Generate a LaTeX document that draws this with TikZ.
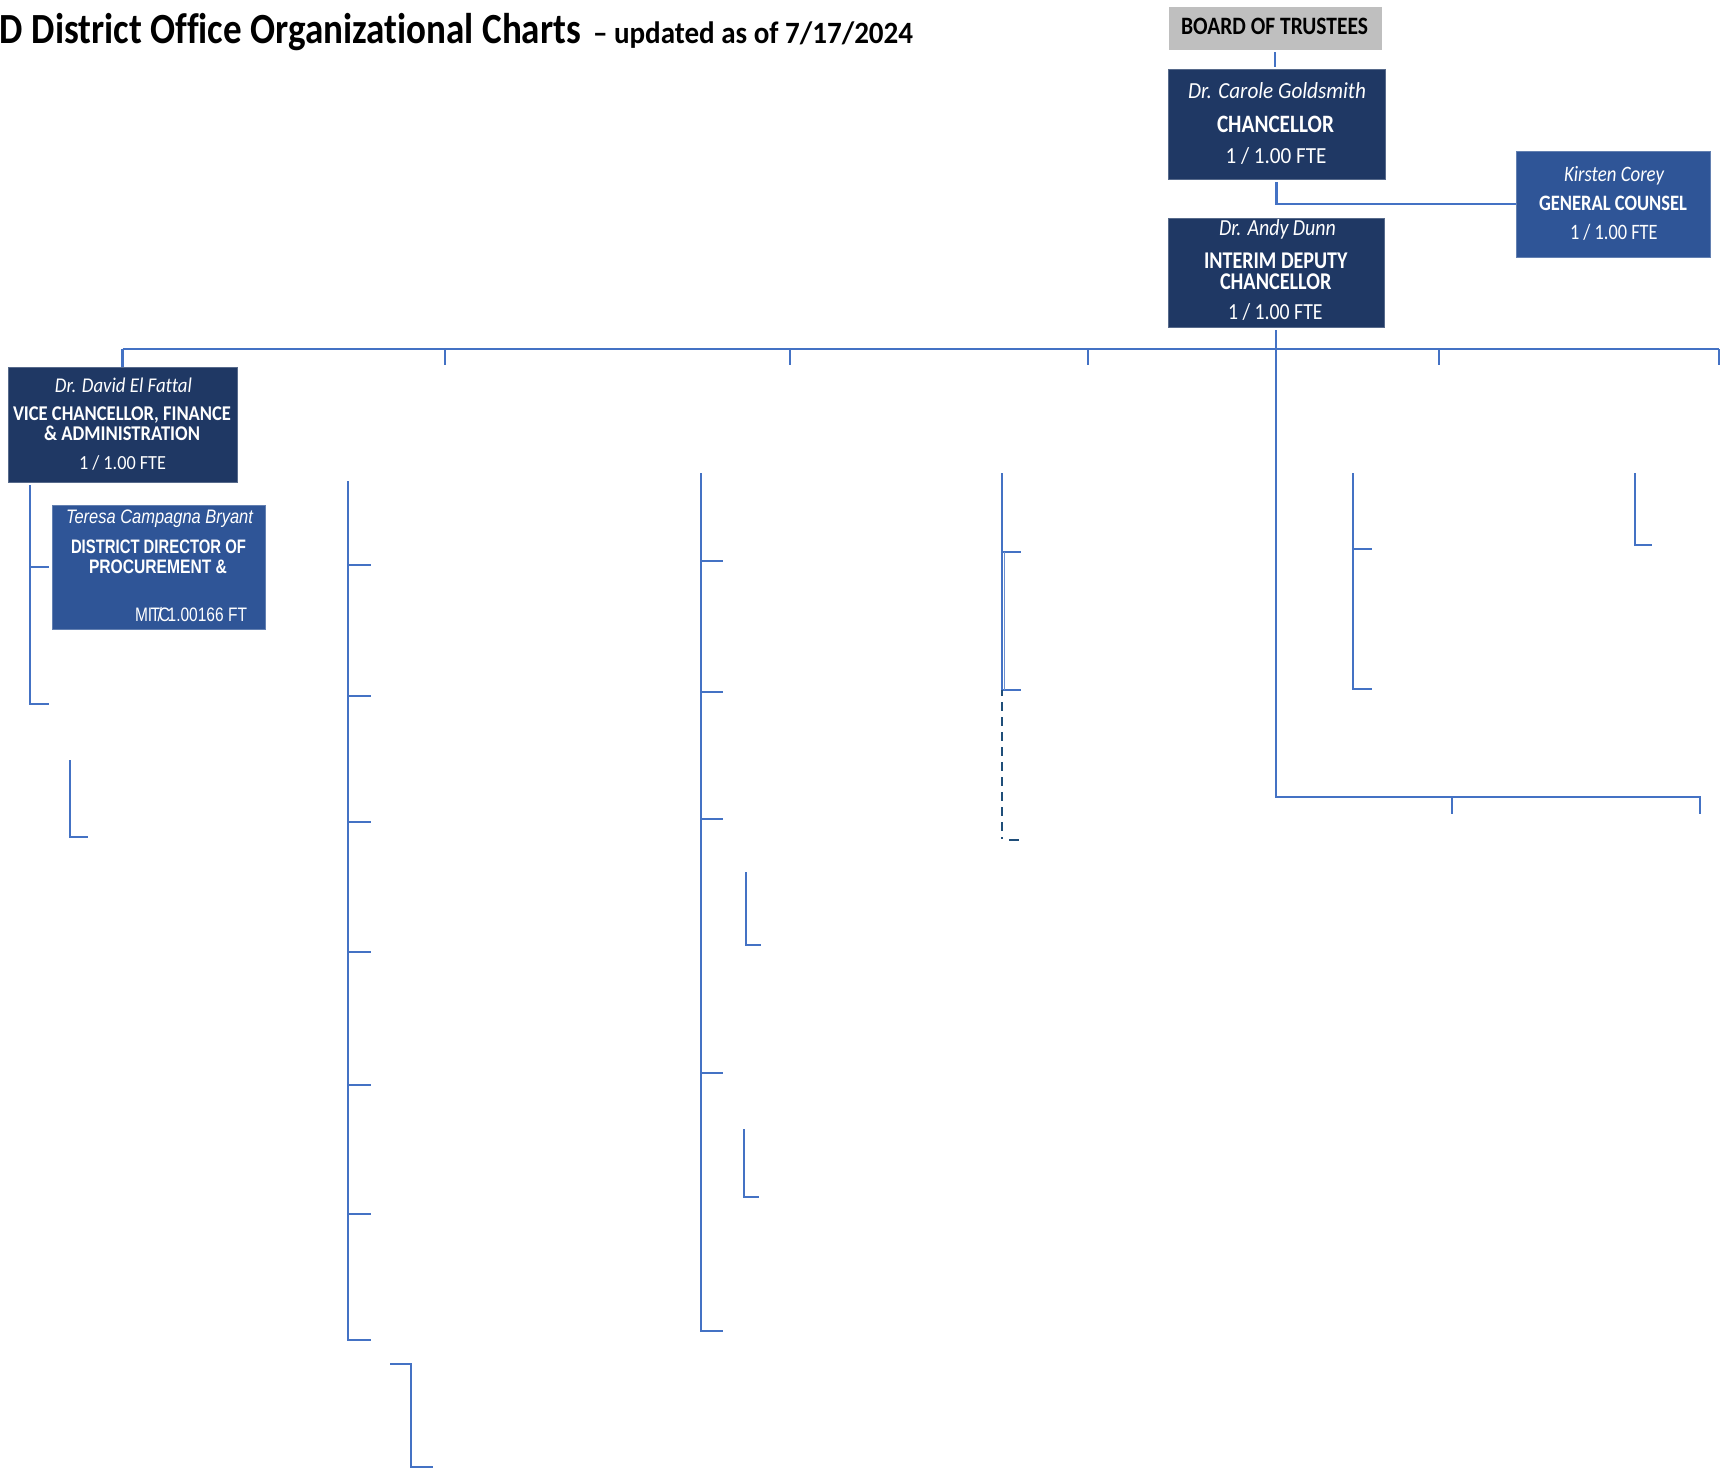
\documentclass[tikz,border=0pt]{standalone}
\usepackage{fontspec}
\usepackage{graphicx}
\setmainfont{Carlito}[Ligatures=NoCommon]
\newfontfamily\arialf{Liberation Sans}
\definecolor{navy}{HTML}{1F3864}
\definecolor{midblue}{HTML}{2F5597}
\definecolor{lineblue}{HTML}{4472C4}
\definecolor{dashblue}{HTML}{1F4E79}
\definecolor{boardgray}{HTML}{BFBFBF}
\newcommand{\fitto}[2]{\resizebox{#1pt}{\height}{#2}}
\newcommand{\fsz}[1]{\fontsize{#1}{#1}\selectfont}
\begin{document}
\begin{tikzpicture}[x=1pt,y=-1pt,
  orgbox/.style={draw=#1!75!white, line width=0.6pt, fill=#1, inner sep=0pt, outer sep=0pt, anchor=north west},
  txt/.style={inner sep=0pt, outer sep=0pt, anchor=base west, text=white},
  conn/.style={draw=lineblue, line width=2.5pt},
  thinconn/.style={draw=lineblue!80!white, line width=1.2pt},
  dashconn/.style={draw=dashblue, line width=2.2pt, dash pattern=on 9pt off 6pt}
]
\fill[white] (0,0) rectangle (1727,1468);
\useasboundingbox (0,0) rectangle (1727,1468);

% ---------- title ----------
\node[txt, text=black, font=\fsz{43}\bfseries] (title) at (0,43) {\fitto{581}{D District Office Organizational Charts}};
\node[txt, text=black, font=\fsz{31}\bfseries] (subtitle) at (593,43) {\fitto{320}{– updated as of 7/17/2024}};

% ---------- boxes ----------
\node[orgbox=boardgray, draw=boardgray, minimum width=212pt, minimum height=42pt] (board) at (1169,7) {};
\node[txt, text=black, font=\fsz{25}\bfseries] (boardT) at (1181,34) {\fitto{187}{BOARD OF TRUSTEES}};

\node[orgbox=navy, minimum width=217pt, minimum height=110pt] (ch) at (1168,69) {};
\node[txt, font=\fsz{23}\itshape] (chA) at (1188,98) {\fitto{178}{Dr. Carole Goldsmith}};
\node[txt, font=\fsz{25}\bfseries] (chB) at (1217,132) {\fitto{117}{CHANCELLOR}};
\node[txt, font=\fsz{23}] (chC) at (1225.5,163) {\fitto{101}{1 / 1.00 FTE}};

\node[orgbox=midblue, minimum width=194.5pt, minimum height=106pt] (gc) at (1516,151) {};
\node[txt, font=\fsz{22}\itshape] (gcA) at (1564,181) {\fitto{100}{Kirsten Corey}};
\node[txt, font=\fsz{22}\bfseries] (gcB) at (1539,210) {\fitto{148}{GENERAL COUNSEL}};
\node[txt, font=\fsz{22}] (gcC) at (1570,239) {\fitto{87.6}{1 / 1.00 FTE}};

\node[orgbox=navy, minimum width=216pt, minimum height=109pt] (dep) at (1168,218) {};
\node[txt, font=\fsz{23}\itshape] (depA) at (1219,235) {\fitto{117}{Dr. Andy Dunn}};
\node[txt, font=\fsz{24}\bfseries] (depB) at (1204,268) {\fitto{143.5}{INTERIM DEPUTY}};
\node[txt, font=\fsz{24}\bfseries] (depC) at (1220,289) {\fitto{111.5}{CHANCELLOR}};
\node[txt, font=\fsz{23}] (depD) at (1228,319) {\fitto{94.6}{1 / 1.00 FTE}};

\node[orgbox=navy, minimum width=229pt, minimum height=115pt] (vc) at (8,367) {};
\node[txt, font=\fsz{21}\itshape] (vcA) at (55,392) {\fitto{137}{Dr. David El Fattal}};
\node[txt, font=\fsz{21}\bfseries] (vcB) at (13,420) {\fitto{218}{VICE CHANCELLOR, FINANCE}};
\node[txt, font=\fsz{21}\bfseries] (vcC) at (44,440) {\fitto{156}{\& ADMINISTRATION}};
\node[txt, font=\fsz{20}] (vcD) at (79,469) {\fitto{87}{1 / 1.00 FTE}};

\node[orgbox=midblue, minimum width=213pt, minimum height=124pt] (tcb) at (52,505) {};
\node[txt, font=\arialf\fsz{19.5}\itshape] (tcbA) at (66,523) {\fitto{187}{Teresa Campagna Bryant}};
\node[txt, font=\arialf\fsz{19.5}\bfseries] (tcbB) at (71,553) {\fitto{175}{DISTRICT DIRECTOR OF}};
\node[txt, font=\arialf\fsz{19.5}\bfseries] (tcbC) at (89,573) {\fitto{138}{PROCUREMENT \&}};
\node[txt, font=\arialf\fsz{19.5}] (tcbD) at (135,621) {\fitto{112}{MI\kern-2ptT\kern-3pt/\kern-4ptC\kern-3pt1.00166 FT}};

% ---------- top connectors ----------
\draw[conn, shorten >=2pt, shorten <=3pt] (board.south) -- (board.south |- ch.north);
\draw[conn] ([yshift=-3pt]ch.south) |- (gc.west);

% ---------- bus ----------
\coordinate (busL) at (122.5,349);
\coordinate (busR) at (1719,349);
\coordinate (depL) at (1276,797);
\coordinate (depR) at (1700,797);
\draw[conn] (busL) -- (busR);
\draw[conn] (busL) -- (vc.north);
\foreach \xx/\nm in {445/d1,790/d2,1088/d3,1439/d4,1719/d5} {
  \coordinate (\nm) at (\xx,349);
  \draw[conn] (\nm) -- ++(0,16);
}
\draw[conn] ([yshift=-3pt]dep.south) -- (depL) -- (depR) -- ++(0,17);
\coordinate (depM) at (1452,797);
\draw[conn] (depM) -- ++(0,17);

% ---------- VC subtree ----------
\coordinate (vcT) at (30,485);
\coordinate (vcB) at (30,704);
\draw[conn] (vcT) -- (vcB) -- ++(19,0);
\draw[conn, shorten >=3pt] (vcT |- tcb.west) -- (tcb.west);
\coordinate (lA) at (70,760);
\draw[conn] (lA) -- (70,837) -- ++(18,0);

% ---------- column 1 ----------
\coordinate (c1t) at (348,481);
\coordinate (c1b) at (348,1340);
\draw[conn] (c1t) -- (c1b) -- ++(23,0);
\foreach \yy in {565,696,822,952,1085,1214} \draw[conn] (348,\yy) -- ++(23,0);
\coordinate (bkA) at (390,1364);
\draw[conn] (bkA) -- (411,1364) -- (411,1467) -- ++(22,0);

% ---------- column 2 ----------
\coordinate (c2t) at (701,473);
\coordinate (c2b) at (701,1331);
\draw[conn] (c2t) -- (c2b) -- ++(22,0);
\foreach \yy in {561,692,819,1073} \draw[conn] (701,\yy) -- ++(22,0);
\coordinate (lB) at (746,872);
\draw[conn] (lB) -- (746,945) -- ++(15,0);
\coordinate (lC) at (744,1129);
\draw[conn] (lC) -- (744,1197) -- ++(15,0);

% ---------- column 3 ----------
\coordinate (c3t) at (1002,473);
\coordinate (c3b) at (1002,690);
\draw[conn] (c3t) -- (c3b) -- ++(19,0);
\draw[conn] (1002,552) -- ++(19,0);
\draw[thinconn] (1004.5,552) -- (1004.5,690);
\coordinate (c3d) at (1002,839);
\draw[dashconn, dash phase=3pt] (c3b) -- (c3d);
\draw[draw=dashblue, line width=2.2pt] (1009,840) -- (1019,840);

% ---------- column 4 ----------
\coordinate (c4t) at (1353,473);
\coordinate (c4b) at (1353,689);
\draw[conn] (c4t) -- (c4b) -- ++(19,0);
\draw[conn] (1353,549) -- ++(19,0);

% ---------- column 5 ----------
\coordinate (c5t) at (1635,473);
\draw[conn] (c5t) -- (1635,545) -- ++(17,0);
\end{tikzpicture}
\end{document}
